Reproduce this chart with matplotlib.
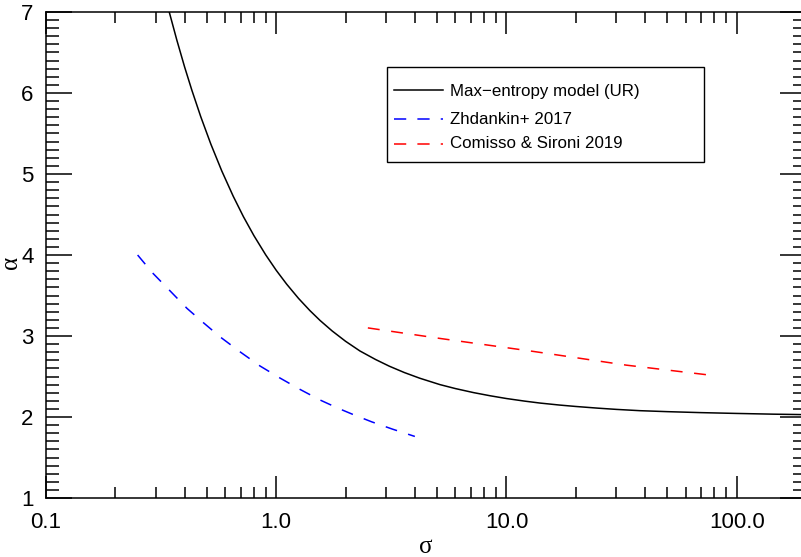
import matplotlib
matplotlib.use("Agg")
import matplotlib.pyplot as plt
from matplotlib.ticker import FixedLocator, NullFormatter, MultipleLocator
from matplotlib.lines import Line2D
from matplotlib.patches import Rectangle

# values
sigma_me = [0.343, 0.37, 0.40, 0.43, 0.47, 0.52, 0.58, 0.65, 0.72, 0.80, 0.90,
            1.0, 1.11, 1.25, 1.4, 1.55, 1.75, 2.0, 2.31, 2.7, 3.1, 3.6, 4.2,
            5.14, 6.0, 7.2, 8.5, 10.0, 12.0, 14.0, 17.0, 20.0, 25.0, 30.0, 38.0,
            50.0, 70.0, 100.0, 144.0, 200.0]
alpha_me = [7.0, 6.654, 6.321, 6.035, 5.708, 5.369, 5.038, 4.727, 4.474, 4.239, 4.002,
            3.811, 3.64, 3.464, 3.314, 3.192, 3.062, 2.935, 2.815, 2.71, 2.627, 2.549, 2.479,
            2.40, 2.351, 2.301, 2.262, 2.228, 2.196, 2.172, 2.1475, 2.130, 2.109, 2.094, 2.078,
            2.066, 2.054, 2.044, 2.035, 2.029]

sigma_zh = [0.25, 0.29, 0.345, 0.41, 0.48, 0.57, 0.70, 0.85, 1.04, 1.27, 1.55, 1.85,
            2.16, 2.6, 3.2, 4.0]
alpha_zh = [4.00, 3.78, 3.56, 3.34, 3.17, 2.99, 2.80, 2.63, 2.48, 2.34, 2.21, 2.11,
            2.03, 1.94, 1.85, 1.76]

sigma_cs = [2.5, 5.14, 13.06, 33.2, 75.0]
alpha_cs = [3.10, 2.97, 2.81, 2.64, 2.52]

labels = ["Max\u2212entropy model (UR)", "Zhdankin+ 2017", "Comisso & Sironi 2019"]
colors = ["black", "blue", "red"]

plt.rcParams["font.family"] = ["Liberation Sans", "DejaVu Sans"]

W, H = 801, 557
fig = plt.figure(figsize=(W / 100, H / 100), dpi=100)
ax = fig.add_axes([46 / W, 1 - 498 / H, (806 - 46) / W, (498 - 12) / H])

lw = 1.1
dash = (0, (7.8, 7.6))
ax.plot(sigma_me, alpha_me, color=colors[0], lw=lw)
ax.plot(sigma_zh, alpha_zh, color=colors[1], lw=lw, ls=dash)
ax.plot(sigma_cs, alpha_cs, color=colors[2], lw=lw, ls=dash)

ax.set_xscale("log")
ax.set_xlim(0.1, 200)
ax.set_ylim(1, 7)

ax.xaxis.set_major_locator(FixedLocator([0.1, 1, 10, 100]))
ax.set_xticklabels(["0.1", "1.0", "10.0", "100.0"])
minors = [m * 10.0 ** e for e in range(-1, 3) for m in range(2, 10)]
ax.xaxis.set_minor_locator(FixedLocator(minors))
ax.xaxis.set_minor_formatter(NullFormatter())
ax.yaxis.set_major_locator(MultipleLocator(1))
ax.yaxis.set_minor_locator(MultipleLocator(0.1))

for s in ax.spines.values():
    s.set_linewidth(1.1)
ax.tick_params(axis="both", which="both", direction="in", top=True, right=True,
               width=1.1, labelsize=16)
ax.tick_params(axis="x", which="major", length=15.8, pad=10)
ax.tick_params(axis="x", which="minor", length=7.9)
ax.tick_params(axis="y", which="major", length=18.7, pad=9)
ax.tick_params(axis="y", which="minor", length=9.4)

fig.text(426 / W, 1 - 547 / H, "\u03c3", family="Liberation Serif", fontsize=18,
         ha="center", va="center")
fig.text(11 / W, 1 - 262 / H, "\u03b1", family="Liberation Serif", fontsize=18,
         ha="center", va="center", rotation=90)

# legend box drawn in figure pixels
fig.patches.append(Rectangle((387 / W, 1 - 162 / H), (704 - 387) / W, (162 - 67) / H,
                             transform=fig.transFigure, fill=False, ec="black", lw=1.0))
rows = [(89.5, 91.5), (119.3, 119.7), (143.5, 143.7)]
styles = ["-", (0, (8, 7.3)), (0, (8, 7.3))]
for (ly, ty), lab, c, st in zip(rows, labels, colors, styles):
    fig.lines.append(Line2D([394 / W, 443 / W], [1 - ly / H, 1 - ly / H],
                            transform=fig.transFigure, color=c, lw=lw, ls=st))
    fig.text(450 / W, 1 - ty / H, lab, fontsize=12.2, ha="left", va="center")

fig.savefig("out.png", dpi=100)
